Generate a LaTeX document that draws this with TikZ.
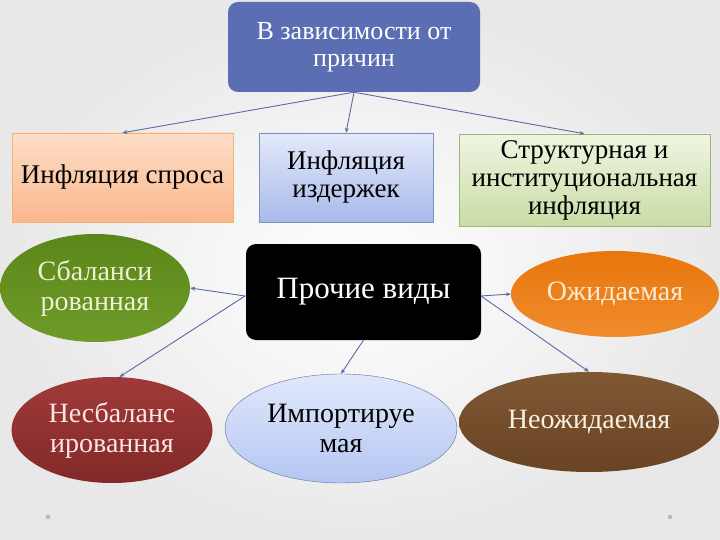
\documentclass[tikz,border=0pt]{standalone}
\usepackage{fontspec}
\setmainfont{Liberation Serif}
\usetikzlibrary{shapes.geometric,arrows.meta}
\definecolor{topblue}{HTML}{5B6EB4}
\definecolor{linec}{HTML}{5A6BA5}
\tikzset{
  conn/.style={draw=linec, line width=0.9pt, -{Stealth[length=5pt,width=4pt]}},
  boxbase/.style={rectangle, align=center, inner sep=0pt, font=\fontsize{27}{28}\selectfont},
  ell/.style={ellipse, align=center, inner sep=0pt, font=\fontsize{28}{30}\selectfont},
}
\begin{document}
\begin{tikzpicture}[x=1pt,y=-1pt]
\shade[inner color=white, outer color=gray!18] (0,0) rectangle (720,540);
\useasboundingbox (0,0) rectangle (720,540);
\fill[gray!55] (48,517) circle (2.3);
\fill[gray!55] (670,517) circle (2.3);

\node[rectangle, rounded corners=10pt, fill=topblue, text=white, align=center,
      minimum width=252pt, minimum height=90pt, font=\fontsize{26}{27}\selectfont]
      (top) at (354,47) {В зависимости от\\причин};

\node[boxbase, draw=orange!70!brown!60, top color={rgb,255:red,253;green,222;blue,200},
      bottom color={rgb,255:red,249;green,183;blue,140}, minimum width=221pt, minimum height=89pt]
      (b1) at (122.5,177.5) {Инфляция спроса};
\node[boxbase, draw={rgb,255:red,127;green,143;blue,192}, top color={rgb,255:red,228;green,233;blue,250},
      bottom color={rgb,255:red,168;green,186;blue,234}, minimum width=174pt, minimum height=89pt]
      (b2) at (346,177.5) {Инфляция\\издержек};
\node[boxbase, draw={rgb,255:red,160;green,180;blue,120}, top color={rgb,255:red,239;green,245;blue,225},
      bottom color={rgb,255:red,200;green,220;blue,165}, minimum width=251pt, minimum height=92pt]
      (b3) at (584.5,180) {Структурная и\\институциональная\\инфляция};

\node[rectangle, rounded corners=10pt, fill=black, text=white, align=center,
      minimum width=235pt, minimum height=96pt, font=\fontsize{31}{33}\selectfont]
      (mid) at (363.5,292) {Прочие виды};

\node[ell, top color={rgb,255:red,90;green,135;blue,25}, bottom color={rgb,255:red,110;green,155;blue,40},
      text={rgb,255:red,240;green,240;blue,215}, minimum width=190pt, minimum height=108pt]
      (e1) at (95,288) {Сбаланси\\рованная};
\node[ell, top color={rgb,255:red,232;green,118;blue,12}, bottom color={rgb,255:red,240;green,140;blue,45},
      text={rgb,255:red,250;green,235;blue,210}, minimum width=208pt, minimum height=86pt]
      (e2) at (615,294) {Ожидаемая};
\node[ell, top color={rgb,255:red,160;green,58;blue,58}, bottom color={rgb,255:red,130;green,40;blue,40},
      text={rgb,255:red,250;green,230;blue,225}, minimum width=201pt, minimum height=106pt]
      (e3) at (112,430) {Несбаланс\\ированная};
\node[ell, draw={rgb,255:red,95;green,110;blue,160}, top color={rgb,255:red,225;green,232;blue,250},
      bottom color={rgb,255:red,180;green,198;blue,242}, minimum width=232pt, minimum height=109pt]
      (e4) at (341,428.5) {Импортируе\\мая};
\node[ell, top color={rgb,255:red,128;green,88;blue,52}, bottom color={rgb,255:red,105;green,68;blue,35},
      text={rgb,255:red,250;green,240;blue,225}, minimum width=260pt, minimum height=100pt]
      (e5) at (589,422) {Неожидаемая};

\draw[conn] (top.south) -- (b1.north);
\draw[conn] (top.south) -- (b2.north);
\draw[conn] (top.south) -- (b3.north);

\coordinate (ml) at (245,296);
\coordinate (mr) at (481,296);
\draw[conn] (ml) -- (e1.east);
\draw[conn] (ml) -- (e3.82);
\draw[conn] (mid.south) -- (e4.north);
\draw[conn] (mr) -- (e2.west);
\draw[conn] (mr) -- (e5.north);
\end{tikzpicture}
\end{document}
